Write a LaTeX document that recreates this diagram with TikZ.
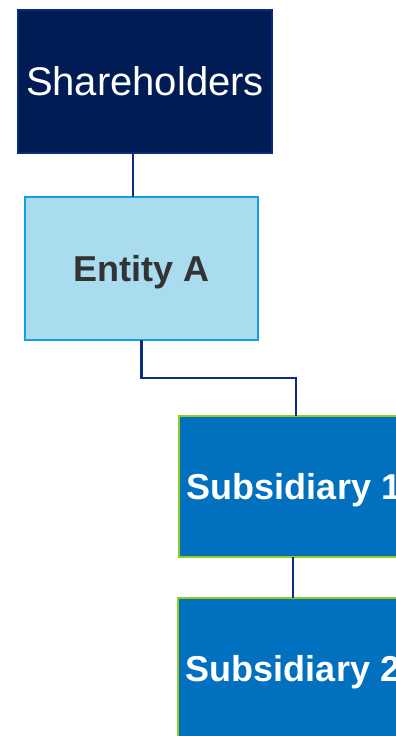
\documentclass[tikz,border=0pt]{standalone}
\usepackage{fontspec}
\setmainfont{Liberation Sans}
\begin{document}
\definecolor{navy}{HTML}{001C55}
\definecolor{navyedge}{HTML}{0B2B7C}
\definecolor{linkblue}{HTML}{0A2D84}
\definecolor{paleblue}{HTML}{AADCF0}
\definecolor{skyedge}{HTML}{12A2DE}
\definecolor{midblue}{HTML}{0070BF}
\definecolor{limeedge}{HTML}{94CC1A}
\definecolor{darktext}{HTML}{333333}
\begin{tikzpicture}[x=1pt,y=-1pt,
  orgbox/.style={rectangle, anchor=north west, inner sep=0pt, outer sep=0pt,
    text depth=0pt},
  topbox/.style={orgbox, fill=navy, draw=navyedge, line width=1.2pt,
    text=white, font=\fontsize{40}{44}\selectfont},
  entitybox/.style={orgbox, fill=paleblue, draw=skyedge, line width=2pt,
    text=darktext, font=\fontsize{36}{42}\selectfont\bfseries},
  subbox/.style={orgbox, fill=midblue, draw=limeedge, line width=2.5pt,
    text=white, font=\fontsize{36}{42}\selectfont\bfseries,
    minimum width=230pt, minimum height=141pt},
  link/.style={draw=linkblue, line width=2.2pt}]
\useasboundingbox (0,0) rectangle (396,736);
\clip (0,0) rectangle (396,736);

% boxes
\node[topbox, minimum width=254pt, minimum height=143pt] (sh) at (18,10) {Shareholders};
\node[entitybox, minimum width=233pt, minimum height=143pt] (ea) at (25,197) {Entity A};
\node[subbox] (s1) at (179,416) {Subsidiary 1};
\node[subbox] (s2) at (178,598) {Subsidiary 2};

% connectors
\coordinate (c1) at (133,153);
\draw[link] (c1) -- (c1 |- ea.north);
\coordinate (c2) at (142,378);
\coordinate (c3) at (296,378);
\draw[link] (ea.south) -- (ea.south |- c2) -- (c3) -- (c3 |- s1.north);
\coordinate (c4) at (293,557);
\draw[link] (c4) -- (c4 |- s2.north);
\end{tikzpicture}
\end{document}
